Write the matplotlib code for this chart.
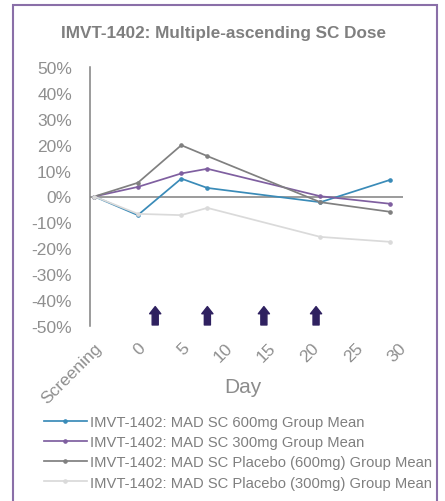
import matplotlib.pyplot as plt
from matplotlib.patches import Rectangle
from matplotlib.ticker import PercentFormatter

# data (percent change from screening)
days = [-5, 0, 5, 8, 21, 29]
mad600 = [0, -7.2, 6.9, 3.3, -2.2, 6.4]
mad300 = [0, 3.7, 8.9, 10.7, 0.1, -2.8]
pbo600 = [0, 5.3, 19.8, 15.6, -2.2, -5.9]
pbo300 = [0, -6.7, -7.2, -4.4, -15.6, -17.5]
dose_days = [2, 8, 14.5, 20.5]

tick_pos = [-5, 0, 5, 10, 15, 20, 25, 30]
tick_labels = ['Screening', '0', '5', '10', '15', '20', '25', '30']
series_names = ['IMVT-1402: MAD SC 600mg Group Mean',
                'IMVT-1402: MAD SC 300mg Group Mean',
                'IMVT-1402: MAD SC Placebo (600mg) Group Mean',
                'IMVT-1402: MAD SC Placebo (300mg) Group Mean']
colors = ['#3a8bb8', '#7f5fa0', '#808080', '#dadada']

plt.rcParams['font.family'] = ['Liberation Sans', 'DejaVu Sans']
plt.rcParams['axes.unicode_minus'] = False

fig = plt.figure(figsize=(4.45, 5.02), dpi=100)
fig.patch.set_facecolor('white')

# purple frame around the whole chart
fig.patches.append(Rectangle((13 / 445, -0.05), 424 / 445, 1.05 - 6 / 502,
                             transform=fig.transFigure, fill=False,
                             edgecolor='#8a6fa8', linewidth=1.5))

ax = fig.add_axes([90 / 445, 1 - 327 / 502, 313 / 445, 259 / 502])

handles = []
for vals, c, name in zip([mad600, mad300, pbo600, pbo300], colors, series_names):
    ln, = ax.plot(days, vals, '-', color=c, lw=1.25, marker='o', markersize=2.3,
                  label=name, zorder=3)
    handles.append(ln)

ax.axhline(0, color='#808080', lw=1.1, zorder=2)

# dosing arrows
for d in dose_days:
    ax.annotate('', xy=(d, -42.5), xytext=(d, -49.6),
                arrowprops=dict(arrowstyle='simple,head_length=0.45,head_width=0.7,tail_width=0.38',
                                color='#2f2160', mutation_scale=11.5, shrinkA=0, shrinkB=0))

ax.set_xlim(-5.5, 30.5)
ax.set_ylim(-50, 50)
ax.set_yticks(range(-50, 51, 10))
ax.yaxis.set_major_formatter(PercentFormatter(xmax=100, decimals=0))
ax.set_xticks(tick_pos)
ax.set_xticklabels(tick_labels, rotation=45, ha='right', rotation_mode='anchor')

for s in ['top', 'right', 'bottom']:
    ax.spines[s].set_visible(False)
ax.spines['left'].set_color('#808080')
ax.spines['left'].set_linewidth(1.1)
ax.tick_params(axis='both', length=0, labelsize=12.5, colors='#8f8f8f')
ax.tick_params(axis='x', pad=10)
ax.tick_params(axis='y', pad=13)

fig.text(243 / 445, 1 - 388 / 502, 'Day', ha='center', va='center',
         fontsize=15, color='#8c8c8c')
fig.text(223 / 445, 1 - 34 / 502, 'IMVT-1402: Multiple-ascending SC Dose',
         ha='center', va='center', fontsize=12.3, fontweight='bold', color='#7f7f7f')

fig.legend(handles=handles, loc='upper left', bbox_to_anchor=(44 / 445, 1 - 416 / 502),
           frameon=False, fontsize=10.6, labelcolor='#7f7f7f', handlelength=2.9,
           handletextpad=0.2, labelspacing=0.42, borderpad=0, borderaxespad=0)

fig.savefig('out.png', dpi=100)
